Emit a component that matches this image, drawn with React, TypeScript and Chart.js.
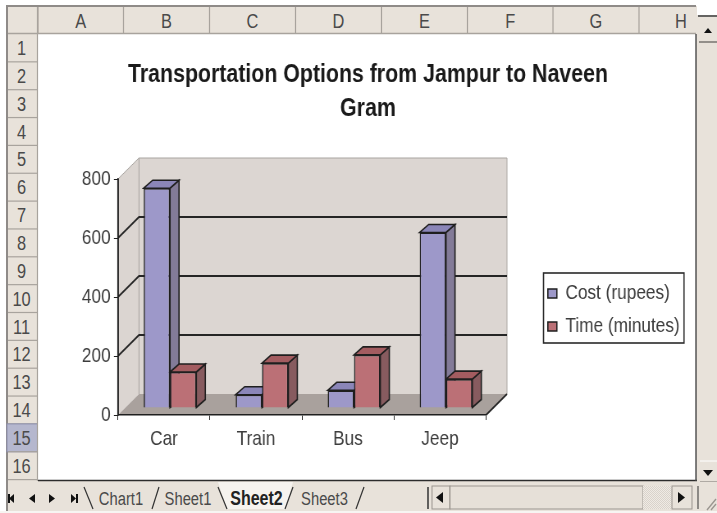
import React, { useEffect, useRef } from "react";
import { Chart, registerables } from "chart.js";

Chart.register(...registerables);

const categories = ["Car", "Train", "Bus", "Jeep"];
const costRupees = [745, 45, 60, 595];
const timeMinutes = [122, 152, 180, 98];
const yTicks = [0, 200, 400, 600, 800];
const titleLines = ["Transportation Options from Jampur to Naveen", "Gram"];
const columnLabels = ["A", "B", "C", "D", "E", "F", "G", "H"];
const rowLabels = ["1", "2", "3", "4", "5", "6", "7", "8", "9", "10", "11", "12", "13", "14", "15", "16"];
const sheetTabs = ["Chart1", "Sheet1", "Sheet2", "Sheet3"];

const FONT = '"Liberation Sans", Arial, sans-serif';
const TEXT = "#3d3d3d";
// The reference is a squeezed screenshot: text is narrow. The canvas is laid out wider and squeezed by CSS.
const CANVAS_W = 874;
const SQUEEZE = 717 / CANVAS_W;
const sx = (px: number) => px / SQUEEZE;
const DEPTH_X = sx(21);
const DEPTH_Y = 21;
const BAR_DX = sx(6);
const BAR_DY = -7;
const SIDE_DX = sx(9);
const SIDE_DY = -8;
const LEGEND_LEFT = sx(543.5);
const LEGEND_RIGHT = sx(684);
const LEGEND_TOP = 273;
const LEGEND_BOTTOM = 343;
const faces = [
  { top: "#8b86b8", side: "#837b98" },
  { top: "#a35c60", side: "#875b5f" },
];

const poly = (ctx: any, pts: number[][], fill: string | null, stroke?: string, lw = 1) => {
  ctx.beginPath();
  pts.forEach((p, i) => (i ? ctx.lineTo(p[0], p[1]) : ctx.moveTo(p[0], p[1])));
  ctx.closePath();
  if (fill) {
    ctx.fillStyle = fill;
    ctx.fill();
  }
  if (stroke) {
    ctx.strokeStyle = stroke;
    ctx.lineWidth = lw;
    ctx.stroke();
  }
};

const scene3d = {
  id: "scene3d",
  afterLayout(chart: any) {
    const t = chart.titleBlock;
    t.left = 0;
    t.right = sx(736);
    const l = chart.legend;
    l.left = sx(538);
    l.right = sx(700);
    l.top = 271;
    l.bottom = 400;
    l.width = l.right - l.left;
    l.height = l.bottom - l.top;
  },
  beforeDraw(chart: any) {
    const { ctx, chartArea: a, scales } = chart;
    const { left: L, right: R, top: T, bottom: B } = a;
    const dx = DEPTH_X;
    const dy = DEPTH_Y;
    ctx.save();
    poly(ctx, [[L, B], [L + dx, B - dy], [L + dx, T - dy], [L, T]], "#dbd5d1");
    poly(ctx, [[L + dx, T - dy], [R + dx, T - dy], [R + dx, B - dy], [L + dx, B - dy]], "#dcd6d2");
    poly(ctx, [[L, B], [R, B], [R + dx, B - dy], [L + dx, B - dy]], "#a9a19d");
    ctx.strokeStyle = "#a8a4a0";
    ctx.lineWidth = 1;
    ctx.beginPath();
    ctx.moveTo(L, T);
    ctx.lineTo(L + dx, T - dy);
    ctx.lineTo(R + dx, T - dy);
    ctx.lineTo(R + dx, B - dy);
    ctx.moveTo(L + dx, T - dy);
    ctx.lineTo(L + dx, B - dy);
    ctx.stroke();
    ctx.strokeStyle = "#252525";
    ctx.lineWidth = 1.8;
    ctx.beginPath();
    yTicks.slice(1, -1).forEach((v) => {
      const y = scales.y.getPixelForValue(v);
      ctx.moveTo(L, y);
      ctx.lineTo(L + dx, y - dy);
      ctx.lineTo(R + dx, y - dy);
    });
    ctx.moveTo(L, B);
    ctx.lineTo(L, T);
    ctx.moveTo(R, B);
    ctx.lineTo(R + dx, B - dy);
    ctx.stroke();
    ctx.restore();
  },
  beforeDatasetsDraw(chart: any) {
    const { ctx } = chart;
    ctx.save();
    ctx.translate(BAR_DX, BAR_DY);
    [0, 1].forEach((di) => {
      const f = faces[di];
      chart.getDatasetMeta(di).data.forEach((bar: any) => {
        const { x, y, width, base } = bar.getProps(["x", "y", "width", "base"], true);
        const l = x - width / 2;
        const r = x + width / 2;
        poly(ctx, [[r, base], [r + SIDE_DX, base + SIDE_DY], [r + SIDE_DX, y + SIDE_DY], [r, y]], f.side, "#1f1f1f", 1.6);
        poly(ctx, [[l, y], [l + SIDE_DX, y + SIDE_DY], [r + SIDE_DX, y + SIDE_DY], [r, y]], f.top, "#1f1f1f", 1.6);
      });
    });
    ctx.restore();
  },
  beforeDatasetDraw(chart: any) {
    chart.ctx.save();
    chart.ctx.translate(BAR_DX, BAR_DY);
  },
  afterDatasetDraw(chart: any) {
    chart.ctx.restore();
  },
  afterDraw(chart: any) {
    const { ctx } = chart;
    ctx.save();
    ctx.strokeStyle = "#2a2a2a";
    ctx.lineWidth = 1.6;
    ctx.strokeRect(LEGEND_LEFT, LEGEND_TOP, LEGEND_RIGHT - LEGEND_LEFT, LEGEND_BOTTOM - LEGEND_TOP);
    ctx.restore();
  },
};

function Chrome() {
  const colX = [38, 123.5, 209.5, 295.5, 381.5, 467.5, 553, 639, 725];
  const rowH = 27.85;
  const rowTop = 34;
  const text = (x: number, y: number, s: string, size: number, extra: any = {}) => (
    <text
      key={s + x + y}
      transform={`translate(${x} ${y}) scale(${SQUEEZE} 1)`}
      fontSize={size}
      fontFamily={FONT}
      fill="#4a4a4a"
      textAnchor="middle"
      dominantBaseline="central"
      {...extra}
    >
      {s}
    </text>
  );
  const tabCx = [121, 188, 256.5, 324.5];
  const tabSlants = ["M84 487 L93 509", "M159 487 L152 509", "M218 487 L227 509", "M293 487 L285 509", "M364 487 L356 509"];
  return (
    <svg width={717} height={513} style={{ position: "absolute", left: 0, top: 0, display: "block" }}>
      <defs>
        <pattern id="dither" width="2" height="2" patternUnits="userSpaceOnUse">
          <rect width="2" height="2" fill="#efeae4" />
          <rect width="1" height="1" fill="#d9d3cb" />
          <rect x="1" y="1" width="1" height="1" fill="#d9d3cb" />
        </pattern>
      </defs>
      <rect x={0} y={0} width={717} height={513} fill="#ffffff" />
      <rect x={6} y={6} width={711} height={506} fill="#e8e2da" />
      <rect x={6} y={5} width={690} height={2} fill="#8f8b88" />
      <rect x={6} y={5} width={2} height={507} fill="#8f8b88" />
      <rect x={38} y={34} width={658} height={446} fill="#ffffff" />
      {columnLabels.map((c, i) => (
        <g key={c}>
          {colX[i] < 696 ? <line x1={colX[i]} x2={colX[i]} y1={7} y2={34} stroke="#a8a39d" strokeWidth={1.2} /> : null}
          {text(Math.min((colX[i] + colX[i + 1]) / 2, 681), 20.5, c, 20)}
        </g>
      ))}
      <line x1={8} x2={696} y1={33.5} y2={33.5} stroke="#a8a39d" strokeWidth={1.4} />
      {rowLabels.map((r, i) => {
        const y = rowTop + i * rowH;
        const sel = r === "15";
        return (
          <g key={r}>
            {sel ? <rect x={7} y={y} width={30.5} height={rowH} fill="#b5b7ce" stroke="#8e90ae" /> : null}
            <line x1={8} x2={37} y1={y + rowH} y2={y + rowH} stroke="#a8a39d" strokeWidth={1.2} />
            {text(21.5, y + rowH / 2, r, 20)}
          </g>
        );
      })}
      <line x1={37.5} x2={37.5} y1={7} y2={481} stroke="#a8a39d" strokeWidth={1.2} />
      <line x1={38} x2={697} y1={480.5} y2={480.5} stroke="#2c2c2c" strokeWidth={1.4} />
      <line x1={696} x2={696} y1={34} y2={481} stroke="#4a4a4a" strokeWidth={1.4} />
      <rect x={697} y={0} width={20} height={15} fill="#ffffff" />
      <line x1={698} x2={717} y1={16} y2={16} stroke="#3a3a3a" strokeWidth={1.5} />
      <rect x={699} y={20} width={18} height={22} fill="#e8e2da" />
      <line x1={699} x2={717} y1={42} y2={42} stroke="#77736f" strokeWidth={1.5} />
      <polygon points="704,33 712,33 708,28" fill="#111" />
      <line x1={700} x2={717} y1={461} y2={461} stroke="#fff" />
      <line x1={700} x2={717} y1={482} y2={482} stroke="#77736f" />
      <polygon points="703,470 713,470 708,476" fill="#111" />
      <rect x={8} y={482} width={709} height={30} fill="#e8e2da" />
      <rect x={0} y={511} width={717} height={2} fill="#f7f5f2" />
      <polygon points="14,494 14,503 9,498.5" fill="#111" />
      <rect x={8} y={494} width={2} height={9} fill="#111" />
      <polygon points="35,494 35,503 29,498.5" fill="#111" />
      <polygon points="49,494 49,503 55,498.5" fill="#111" />
      <polygon points="71,494 71,503 76,498.5" fill="#111" />
      <rect x={76} y={494} width={2} height={9} fill="#111" />
      <path d="M218 482 L227 509 L285 509 L293 482 Z" fill="#f6f3ef" />
      {tabSlants.map((d, i) => (
        <path key={i} d={d} fill="none" stroke="#333" strokeWidth={1.2} />
      ))}
      {sheetTabs.map((s, i) =>
        text(tabCx[i], 498, s, i === 2 ? 19.5 : 18, i === 2 ? { fontWeight: "bold", fill: "#222" } : {})
      )}
      <line x1={428} x2={428} y1={487} y2={509} stroke="#333" strokeWidth={1.5} />
      <rect x={432} y={486} width={18} height={23} fill="#e8e2da" stroke="#9b9690" />
      <polygon points="443,492 443,503 436,497.5" fill="#111" />
      <rect x={450} y={486} width={193} height={23} fill="#e6e0d8" stroke="#9b9690" />
      <rect x={643} y={486} width={29} height={23} fill="url(#dither)" />
      <rect x={672} y={486} width={20} height={23} fill="#e8e2da" stroke="#9b9690" />
      <polygon points="678,492 678,503 685,497.5" fill="#111" />
      <line x1={698} x2={698} y1={486} y2={509} stroke="#333" />
      <path d="M707 510 L716 499 M711 510 L716 504" stroke="#9b9690" strokeWidth={1.4} />
    </svg>
  );
}

export default function App() {
  const ref = useRef<HTMLCanvasElement>(null);
  useEffect(() => {
    const chart = new Chart(ref.current!, {
      type: "bar",
      plugins: [scene3d],
      data: {
        labels: categories,
        datasets: [
          {
            label: "Cost (rupees)",
            data: costRupees,
            backgroundColor: "#9d98c9",
            borderColor: "#1f1f1f",
            borderWidth: 1.6,
            clip: false,
          },
          {
            label: "Time (minutes)",
            data: timeMinutes,
            backgroundColor: "#bb7076",
            borderColor: "#1f1f1f",
            borderWidth: 1.6,
            clip: false,
          },
        ],
      } as any,
      options: {
        responsive: false,
        animation: false,
        events: [],
        layout: { padding: { left: 0, right: sx(231), top: 58, bottom: 0 } },
        datasets: { bar: { categoryPercentage: 0.572, barPercentage: 1 } },
        plugins: {
          tooltip: { enabled: false },
          title: {
            display: true,
            text: titleLines,
            color: "#1a1a1a",
            font: { family: FONT, size: 26, weight: "bold", lineHeight: 34 / 26 },
            padding: { top: 0, bottom: 53 },
          },
          legend: {
            display: true,
            position: "chartArea",
            align: "start",
            labels: {
              boxWidth: sx(9),
              boxHeight: 9,
              padding: 12,
              color: TEXT,
              font: { family: FONT, size: 21 },
            },
          },
        },
        scales: {
          x: {
            afterFit: (s: any) => {
              s.height = 98;
            },
            border: { display: true, color: "#1f1f1f", width: 1.6 },
            grid: { display: true, drawOnChartArea: false, drawTicks: true, tickLength: 5, color: "#1f1f1f", offset: true },
            ticks: { color: TEXT, font: { family: FONT, size: 21 }, padding: 7, maxRotation: 0 },
          },
          y: {
            min: 0,
            max: 800,
            afterFit: (s: any) => {
              s.width = sx(118);
            },
            border: { display: true, color: "#1f1f1f", width: 1.6 },
            grid: { display: true, drawOnChartArea: false, drawTicks: true, tickLength: 5, color: "#1f1f1f" },
            ticks: { stepSize: 200, color: TEXT, font: { family: FONT, size: 21 }, padding: 4 },
          },
        },
      } as any,
    });
    return () => chart.destroy();
  }, []);
  return (
    <div style={{ position: "fixed", left: 0, top: 0, width: 717, height: 513, overflow: "hidden", filter: "blur(0.4px)" }}>
      <Chrome />
      <canvas
        ref={ref}
        width={CANVAS_W}
        height={513}
        style={{ position: "absolute", left: 0, top: 0, display: "block", transform: `scaleX(${SQUEEZE})`, transformOrigin: "0 0" }}
      />
    </div>
  );
}
